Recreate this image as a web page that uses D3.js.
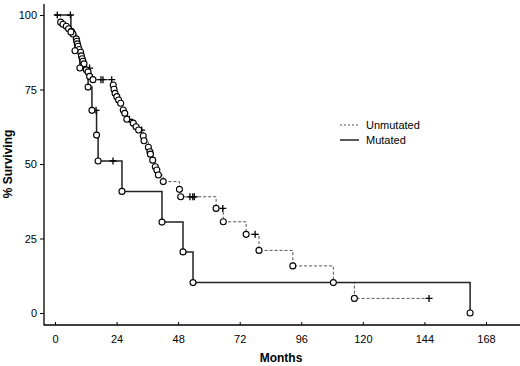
<!DOCTYPE html>
<html>
<head>
<meta charset="utf-8">
<script src="https://cdn.jsdelivr.net/npm/d3@7"></script>
<style>
  body { margin: 0; background: #fff; }
  svg { display: block; font-family: 'Liberation Sans', Arial, sans-serif; }
</style>
</head>
<body>
<div id="km-graph"></div>
<script>
// data: [month, % surviving]
var mutated_events = [
  [6.2, 94.3], [7.8, 88.0], [9.7, 82.2], [12.9, 75.8], [14.4, 68.0],
  [16.2, 59.7], [16.8, 51.0], [26.1, 40.8], [41.7, 30.5], [49.9, 20.5],
  [53.8, 10.2], [161.8, 0]
]
var mutated_censored = [[6.0, 100], [16.0, 68.0], [22.6, 51.0]]

var unmutated_events = [
  [2.2, 97.6], [3.1, 96.9], [4.4, 96.2], [5.3, 95.4], [6.4, 94.5], [7.0, 93.6],
  [8.3, 92.0], [8.5, 91.2], [8.7, 90.3], [9.0, 89.5], [9.4, 88.4], [10.0, 87.5],
  [10.3, 86.3], [10.6, 85.3], [10.9, 84.5], [11.3, 83.6], [12.2, 81.6], [12.9, 80.9],
  [13.5, 79.4], [14.8, 78.3],
  [22.7, 76.5], [23.0, 75.1], [23.4, 73.7], [24.1, 72.6], [24.8, 71.5], [25.6, 70.4],
  [26.6, 68.1], [27.2, 67.0], [28.0, 65.0], [30.5, 63.7], [31.6, 62.5], [32.6, 61.4],
  [34.4, 59.4], [34.7, 57.8], [36.4, 55.6], [37.0, 54.1], [37.2, 53.3], [38.1, 51.3],
  [39.1, 49.1], [39.7, 48.0], [40.3, 46.3], [42.2, 44.1], [48.5, 41.5], [49.0, 39.0],
  [62.8, 35.1], [65.6, 30.6], [74.5, 26.4], [79.5, 21.0], [92.7, 15.8],
  [108.5, 10.2], [116.7, 4.9]
]
var unmutated_censored = [
  [0.9, 100], [13.5, 82.2], [17.9, 78.3], [18.7, 78.3], [22.1, 78.3],
  [29.0, 65.0], [33.8, 61.4], [52.6, 39.0], [53.7, 39.0], [54.3, 39.0],
  [65.4, 35.1], [78.0, 26.4], [145.8, 4.9]
]

var x_ticks = [0, 24, 48, 72, 96, 120, 144, 168]
var y_ticks = [0, 25, 50, 75, 100]
var legend_labels = ['Unmutated', 'Mutated']

var width = 520
var height = 366

var svg = d3.select('#km-graph')
  .append('svg')
  .attr('width', width)
  .attr('height', height)

var x = d3.scaleLinear().domain([0, 168]).range([55, 486])
var y = d3.scaleLinear().domain([0, 100]).range([313, 15])

// axes
var axis_x0 = 44
var axis_y0 = 325

svg.append('line')
  .attr('x1', axis_x0).attr('x2', axis_x0)
  .attr('y1', 4).attr('y2', axis_y0 + 0.5)
  .attr('stroke', '#000').attr('stroke-width', 1.3)
svg.append('line')
  .attr('x1', axis_x0).attr('x2', width)
  .attr('y1', axis_y0).attr('y2', axis_y0)
  .attr('stroke', '#000').attr('stroke-width', 1.3)

var yAxis = svg.append('g')
  .attr('transform', 'translate(' + axis_x0 + ',0)')
  .call(d3.axisLeft(y).tickValues(y_ticks).tickSize(4).tickPadding(3))
yAxis.select('.domain').remove()

var xAxis = svg.append('g')
  .attr('transform', 'translate(0,' + axis_y0 + ')')
  .call(d3.axisBottom(x).tickValues(x_ticks).tickSize(-3).tickPadding(10))
xAxis.select('.domain').remove()

svg.selectAll('.tick text')
  .attr('font-size', '11px')
  .attr('font-family', "'Liberation Sans', Arial, sans-serif")
  .attr('fill', '#000')
svg.selectAll('.tick line').attr('stroke', '#000')

// axis titles
svg.append('text')
  .attr('x', 281)
  .attr('y', 362)
  .attr('text-anchor', 'middle')
  .attr('font-size', '12px')
  .attr('font-weight', 'bold')
  .text('Months')

svg.append('text')
  .attr('transform', 'translate(12,164) rotate(-90)')
  .attr('text-anchor', 'middle')
  .attr('font-size', '12px')
  .attr('font-weight', 'bold')
  .text('% Surviving')

// step curves
function stepPoints(events, censored) {
  var pts = [[0, 100]]
  var level = 100
  events.forEach(function (e) {
    pts.push([e[0], level])
    pts.push([e[0], e[1]])
    level = e[1]
  })
  var lastCensor = d3.max(censored, function (c) { return c[0] })
  if (lastCensor > pts[pts.length - 1][0]) pts.push([lastCensor, level])
  return pts
}

var line = d3.line()
  .x(function (d) { return x(d[0]) })
  .y(function (d) { return y(d[1]) })

svg.append('path')
  .datum(stepPoints(unmutated_events, unmutated_censored))
  .attr('d', line)
  .attr('fill', 'none')
  .attr('stroke', '#555')
  .attr('stroke-width', 1)
  .attr('stroke-dasharray', '3,2')

svg.append('path')
  .datum(stepPoints(mutated_events, mutated_censored))
  .attr('d', line)
  .attr('fill', 'none')
  .attr('stroke', '#222')
  .attr('stroke-width', 1.5)

// censor marks
function drawCensors(data) {
  svg.selectAll(null)
    .data(data)
    .enter()
    .append('path')
    .attr('d', function (d) {
      var cx = x(d[0]), cy = y(d[1])
      return 'M' + (cx - 3.5) + ',' + cy + 'H' + (cx + 3.5) +
        'M' + cx + ',' + (cy - 3.5) + 'V' + (cy + 3.5)
    })
    .attr('stroke', '#000')
    .attr('stroke-width', 1.3)
}
drawCensors(unmutated_censored)
drawCensors(mutated_censored)

// event circles
function drawEvents(data) {
  svg.selectAll(null)
    .data(data)
    .enter()
    .append('circle')
    .attr('cx', function (d) { return x(d[0]) })
    .attr('cy', function (d) { return y(d[1]) })
    .attr('r', 3)
    .attr('fill', '#fff')
    .attr('stroke', '#000')
    .attr('stroke-width', 1.1)
}
drawEvents(unmutated_events)
drawEvents(mutated_events)

// legend
var legend = svg.append('g')
legend.selectAll('line')
  .data(legend_labels)
  .enter()
  .append('line')
  .attr('x1', 340).attr('x2', 359)
  .attr('y1', function (d, i) { return 125 + i * 15 })
  .attr('y2', function (d, i) { return 125 + i * 15 })
  .attr('stroke', function (d, i) { return i === 0 ? '#555' : '#222' })
  .attr('stroke-width', function (d, i) { return i === 0 ? 1 : 1.5 })
  .attr('stroke-dasharray', function (d, i) { return i === 0 ? '2,2' : null })
legend.selectAll('text')
  .data(legend_labels)
  .enter()
  .append('text')
  .attr('x', 366)
  .attr('y', function (d, i) { return 129 + i * 15 })
  .attr('font-size', '11px')
  .text(function (d) { return d })
</script>
</body>
</html>
